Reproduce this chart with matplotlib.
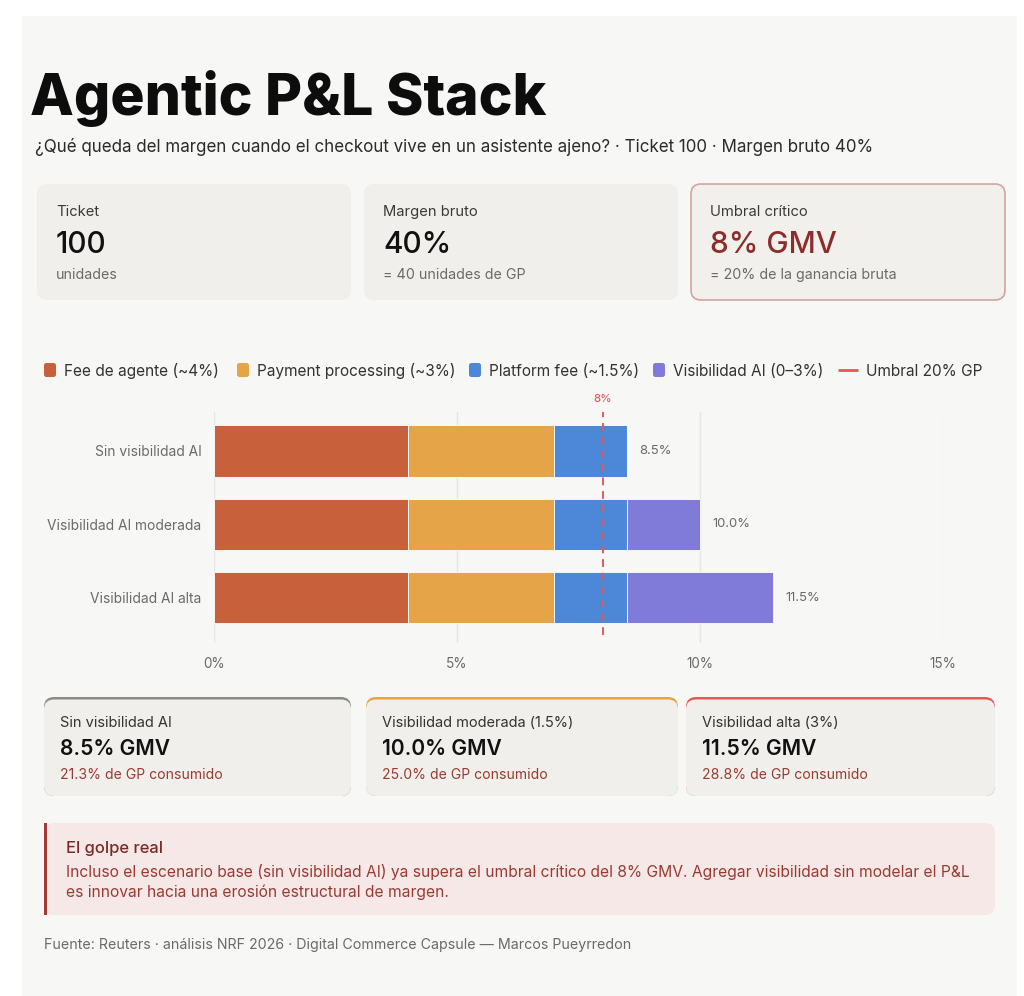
import matplotlib
matplotlib.use("Agg")
import matplotlib.pyplot as plt
from matplotlib.patches import FancyBboxPatch, Rectangle
import numpy as np

plt.rcParams['font.family'] = ['Inter', 'DejaVu Sans']

# ---------------- data ----------------
categories = ["Sin visibilidad AI", "Visibilidad AI moderada", "Visibilidad AI alta"]
series_names = ["Fee de agente (~4%)", "Payment processing (~3%)",
                "Platform fee (~1.5%)", "Visibilidad AI (0–3%)"]
fee_agente = [4.0, 4.0, 4.0]
payment = [3.0, 3.0, 3.0]
platform = [1.5, 1.5, 1.5]
visibilidad = [0.0, 1.5, 3.0]
series_colors = ["#C8603B", "#E5A448", "#4D88D8", "#807AD9"]
threshold = 8.0
threshold_label = "Umbral 20% GP"
x_ticks = [0, 5, 10, 15]
x_tick_labels = ["0%", "5%", "10%", "15%"]

kpi_labels = ["Ticket", "Margen bruto", "Umbral crítico"]
kpi_values = ["100", "40%", "8% GMV"]
kpi_subs = ["unidades", "= 40 unidades de GP", "= 20% de la ganancia bruta"]

scen_labels = ["Sin visibilidad AI", "Visibilidad moderada (1.5%)", "Visibilidad alta (3%)"]
scen_values = ["8.5% GMV", "10.0% GMV", "11.5% GMV"]
scen_gp = ["21.3%", "25.0%", "28.8%"]
scen_colors = ["#8a8a86", "#E5A448", "#E05A58"]

# ---------------- figure ----------------
W, H = 1024, 996
fig = plt.figure(figsize=(W / 100, H / 100), dpi=100)
fig.patch.set_facecolor("white")
bg = fig.add_axes([0, 0, 1, 1])
bg.set_xlim(0, W)
bg.set_ylim(H, 0)
bg.axis("off")

PX = 0.72  # px -> pt

def rbox(x, y, w, h, fc, ec="none", lw=0, r=10, z=1):
    p = FancyBboxPatch((x, y), w, h, boxstyle=f"round,pad=0,rounding_size={r}",
                       fc=fc, ec=ec, lw=lw, zorder=z)
    bg.add_patch(p)
    return p

# main card
bg.add_patch(Rectangle((22, 16), 995, 990, fc="#F7F7F5", ec="none", zorder=0))

# title and subtitle
bg.text(30, 115, "Agentic P&L Stack", fontsize=57 * PX, fontweight=800,
        color="#0d0d0d", va="baseline", ha="left")
bg.text(35, 152, "¿Qué queda del margen cuando el checkout vive en un asistente ajeno? · Ticket 100 · Margen bruto 40%",
        fontsize=17 * PX, color="#2b2b2b", va="baseline", ha="left")

# KPI cards
kpi_x = [37, 364, 691]
kpi_w = 314
for i in range(3):
    if i == 2:
        rbox(kpi_x[i], 184, kpi_w, 116, "#F2F0EC", ec="#D3A3A1", lw=1.2, r=10, z=1)
    else:
        rbox(kpi_x[i], 184, kpi_w, 116, "#F0EFEB", r=10, z=1)
    tx = kpi_x[i] + 19
    bg.text(tx, 216, kpi_labels[i], fontsize=14.8 * PX, color="#3a3a3a", va="baseline")
    bg.text(tx, 253, kpi_values[i], fontsize=29.8 * PX, fontweight="medium",
            color="#8B2E2B" if i == 2 else "#111111", va="baseline")
    bg.text(tx, 279, kpi_subs[i], fontsize=14.3 * PX, color="#6a6a6a", va="baseline")

# legend (manual)
leg_x = [44, 237, 469, 653]
for i in range(4):
    rbox(leg_x[i], 363, 12, 14, series_colors[i], r=2.5, z=2)
    bg.text(leg_x[i] + 20, 376, series_names[i], fontsize=15.4 * PX, color="#333333", va="baseline")
bg.plot([838, 858], [370, 370], color="#E05A58", lw=2, solid_capstyle="butt")
bg.text(866, 376, threshold_label, fontsize=15.4 * PX, color="#333333", va="baseline")

# ---------------- bar chart ----------------
ax_left, ax_right, ax_top, ax_bot = 214, 943, 412, 643
ax = fig.add_axes([ax_left / W, 1 - ax_bot / H, (ax_right - ax_left) / W, (ax_bot - ax_top) / H])
ax.set_facecolor("none")
y = np.arange(len(categories))
left = np.zeros(len(categories))
for vals, name, col in zip([fee_agente, payment, platform, visibilidad], series_names, series_colors):
    ax.barh(y, vals, left=left, height=0.7, color=col, edgecolor="white", linewidth=0.6,
            label=name, zorder=3)
    left = left + np.array(vals)
totals = left
for yi, t in zip(y, totals):
    ax.text(t + 0.25, yi, f"{t:.1f}%", va="center", ha="left", fontsize=13 * PX,
            color="#6a6a6a", zorder=4)

ax.axvline(threshold, ymin=0.035, ymax=1.0, color="#E05A58", lw=1.4, ls=(0, (4, 3)), zorder=5)
ax.text(threshold, -0.64, f"{threshold:g}%", ha="center", va="bottom", fontsize=11.5 * PX,
        fontweight="medium", color="#E05A58")

ax.set_xlim(0, 15)
ax.set_ylim(2.62, -0.53)
ax.set_xticks(x_ticks)
ax.set_xticklabels(x_tick_labels)
ax.set_yticks(y)
ax.set_yticklabels(categories)
ax.tick_params(axis="both", length=0, labelcolor="#6a6a6a")
ax.tick_params(axis="x", pad=10, labelsize=13.5 * PX)
ax.tick_params(axis="y", pad=9, labelsize=13.8 * PX)
ax.grid(axis="x", color="#E6E6E3", lw=1, zorder=0)
for s in ax.spines.values():
    s.set_visible(False)

# ---------------- scenario cards ----------------
sc_x = [44, 366, 686]
sc_w = [307, 312, 309]
for i in range(3):
    rbox(sc_x[i], 697, sc_w[i], 99, scen_colors[i], r=10, z=1)
    rbox(sc_x[i], 699.5, sc_w[i], 96.5, "#F0EFEB", r=10, z=2)
    tx = sc_x[i] + 16
    bg.text(tx, 727, scen_labels[i], fontsize=14.6 * PX, color="#333333", va="baseline", zorder=3)
    bg.text(tx, 755, scen_values[i], fontsize=21 * PX, fontweight=600, color="#111111",
            va="baseline", zorder=3)
    bg.text(tx, 779, f"{scen_gp[i]} de GP consumido", fontsize=14 * PX, color="#9A3B33",
            va="baseline", zorder=3)

# ---------------- callout ----------------
rbox(44, 823, 951, 92, "#F6E8E7", r=10, z=1)
bg.add_patch(Rectangle((44, 823), 3, 92, fc="#A23A36", ec="none", zorder=2))
bg.text(66, 853, "El golpe real", fontsize=16.5 * PX, fontweight="medium", color="#7A2A27",
        va="baseline", zorder=3)
bg.text(66, 877, "Incluso el escenario base (sin visibilidad AI) ya supera el umbral crítico del 8% GMV. Agregar visibilidad sin modelar el P&L",
        fontsize=15.6 * PX, color="#9A3B33", va="baseline", zorder=3)
bg.text(66, 897, "es innovar hacia una erosión estructural de margen.",
        fontsize=15.6 * PX, color="#9A3B33", va="baseline", zorder=3)

# source
bg.text(44, 949, "Fuente: Reuters · análisis NRF 2026 · Digital Commerce Capsule — Marcos Pueyrredon",
        fontsize=14.2 * PX, color="#6a6a6a", va="baseline")

fig.savefig("out.png", dpi=100, facecolor=fig.get_facecolor())
